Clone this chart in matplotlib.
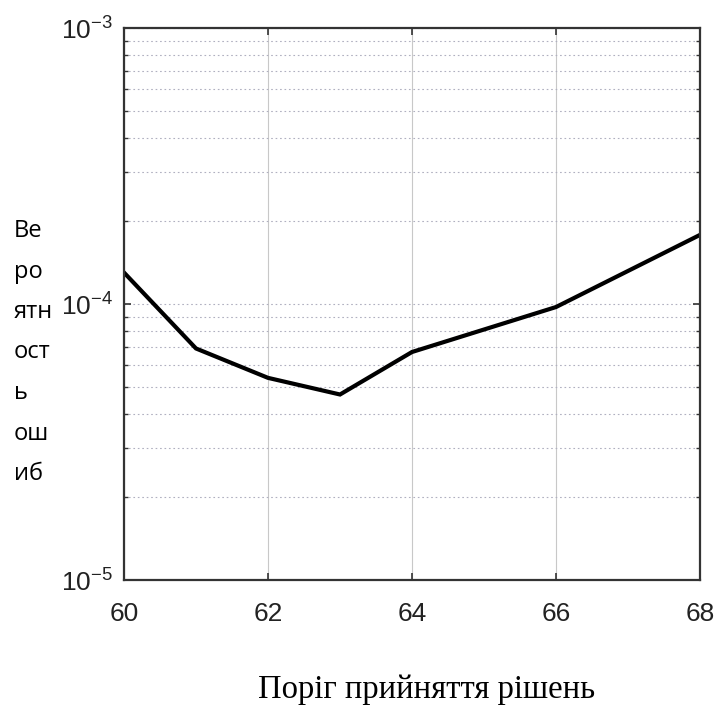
import matplotlib
matplotlib.use("Agg")
import matplotlib.pyplot as plt
from matplotlib.ticker import LogLocator, FixedLocator

plt.rcParams['mathtext.fontset'] = 'custom'
plt.rcParams['mathtext.rm'] = 'Liberation Sans'
plt.rcParams['mathtext.it'] = 'Liberation Sans'
plt.rcParams['mathtext.bf'] = 'Liberation Sans'
plt.rcParams['axes.unicode_minus'] = False

threshold = [60, 61, 62, 63, 64, 66, 68]
error_prob = [1.3e-4, 6.9e-5, 5.4e-5, 4.7e-5, 6.7e-5, 9.75e-5, 1.78e-4]
x_ticks = [60, 62, 64, 66, 68]
y_label_lines = ["Ве", "ро", "ятн", "ост", "ь", "ош", "иб"]
x_label = "Поріг прийняття рішень"

W, H = 718, 709
fig = plt.figure(figsize=(W / 100, H / 100), dpi=100)
ax = fig.add_axes([124 / W, 1 - 580 / H, (700 - 124) / W, (580 - 28) / H])

ax.plot(threshold, error_prob, color='black', lw=3.0, solid_joinstyle='miter')
ax.set_yscale('log')
ax.set_xlim(60, 68)
ax.set_ylim(1e-5, 1e-3)
ax.xaxis.set_major_locator(FixedLocator(x_ticks))
ax.yaxis.set_major_locator(LogLocator(base=10, numticks=10))
ax.yaxis.set_minor_locator(LogLocator(base=10, subs=range(2, 10), numticks=20))
ax.yaxis.set_minor_formatter(plt.NullFormatter())

ax.grid(True, axis='x', which='major', color='#c8c8c8', lw=0.8, ls='-')
ax.grid(True, axis='y', which='major', color='#b0b0c0', lw=0.8, ls=(0, (1.5, 2.5)))
ax.grid(True, axis='y', which='minor', color='#b0b0c0', lw=0.8, ls=(0, (1.5, 2.5)))

for s in ax.spines.values():
    s.set_linewidth(1.6)
    s.set_color('#333333')
ax.tick_params(which='both', direction='in', top=True, right=True)
ax.tick_params(which='major', length=5, width=1.2)
ax.tick_params(which='minor', length=3, width=1.0)
ax.tick_params(axis='x', labelsize=19, pad=16, colors='#222222')
ax.tick_params(axis='y', labelsize=19, pad=8, colors='#222222')
ax.tick_params(which='both', color='#333333')
for lbl in ax.get_xticklabels() + ax.get_yticklabels():
    lbl.set_family('Liberation Sans')

for i, t in enumerate(y_label_lines):
    fig.text(14 / W, 1 - (231 + i * 40.5) / H, t, family=['Open Sans', 'DejaVu Sans'],
             fontsize=17, ha='left', va='center')

fig.text(427 / W, 1 - 690 / H, x_label, family='Liberation Serif', fontsize=23.5,
         ha='center', va='center')

fig.savefig('out.png', dpi=100)
